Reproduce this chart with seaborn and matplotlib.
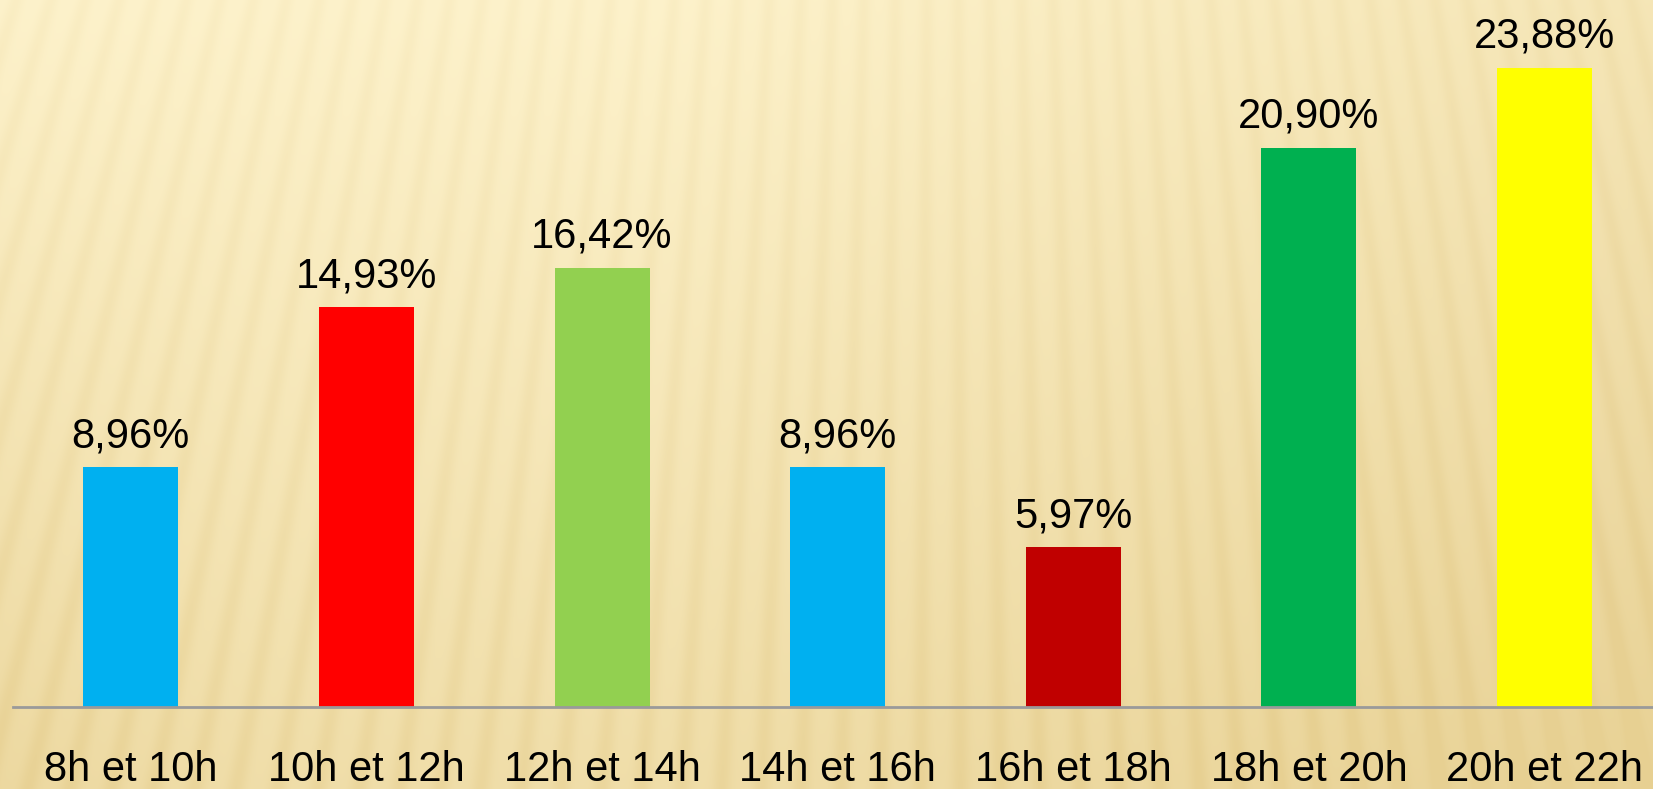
import numpy as np
import pandas as pd
import matplotlib
matplotlib.use('Agg')
import matplotlib.pyplot as plt
import seaborn as sns

# data
categories = ['8h et 10h', '10h et 12h', '12h et 14h', '14h et 16h',
              '16h et 18h', '18h et 20h', '20h et 22h']
values = [8.96, 14.93, 16.42, 8.96, 5.97, 20.90, 23.88]
value_labels = ['8,96%', '14,93%', '16,42%', '8,96%', '5,97%', '20,90%', '23,88%']
bar_colors = ['#00B0F0', '#FF0000', '#92D050', '#00B0F0', '#C00000', '#00B050', '#FFFF00']

df = pd.DataFrame({'periode': categories, 'pct': values})

sns.set_theme(style='white')
plt.rcParams['font.family'] = ['Liberation Sans', 'DejaVu Sans']

W, H = 1653, 789
fig = plt.figure(figsize=(W / 100, H / 100), dpi=100)

#%%
# background: beige gradient with a fan of soft stripes
yy, xx = np.mgrid[0:H, 0:W].astype(float)
t = 0.6 * (yy / H) + 0.35 * np.clip((xx - 650) / 1000, 0, 1) + 0.15 * np.clip((250 - xx) / 250, 0, 1) * (yy / H)
ang = np.arctan2(xx - 950, yy + 3000)
stripe = (0.5 * (1 + np.sin(ang / 0.0105 * 2 * np.pi))) ** 1.8
t = np.clip(t + 0.22 * stripe * (0.6 + 0.4 * yy / H), 0, 1)
light = np.array([253, 242, 203]) / 255
dark = np.array([231, 208, 146]) / 255
bg = light[None, None, :] * (1 - t[..., None]) + dark[None, None, :] * t[..., None]

ax_bg = fig.add_axes([0, 0, 1, 1])
ax_bg.imshow(bg, aspect='auto', extent=[0, W, H, 0], interpolation='bilinear')
ax_bg.axis('off')

#%%
# bars
ax = fig.add_axes([13 / W, (H - 707) / H, (W - 13) / W, 707 / H])
ax.set_facecolor('none')
sns.barplot(data=df, x='periode', y='pct', hue='periode', palette=bar_colors,
            width=0.403, legend=False, saturation=1, linewidth=0, ax=ax)
ax.set_xlim(-0.5, 6.46)
ax.set_ylim(0, 26.42)

for cont, lab in zip(ax.containers, value_labels):
    ax.bar_label(cont, labels=[lab], padding=8, fontsize=30, color='black')

for s in ['top', 'right', 'left']:
    ax.spines[s].set_visible(False)
ax.spines['bottom'].set_color('#9a9a9a')
ax.spines['bottom'].set_linewidth(2)
ax.set_yticks([])
ax.set_xlabel('')
ax.set_ylabel('')
ax.tick_params(axis='x', length=0, pad=31, labelsize=30, labelcolor='black')

fig.savefig('out.png', dpi=100)
